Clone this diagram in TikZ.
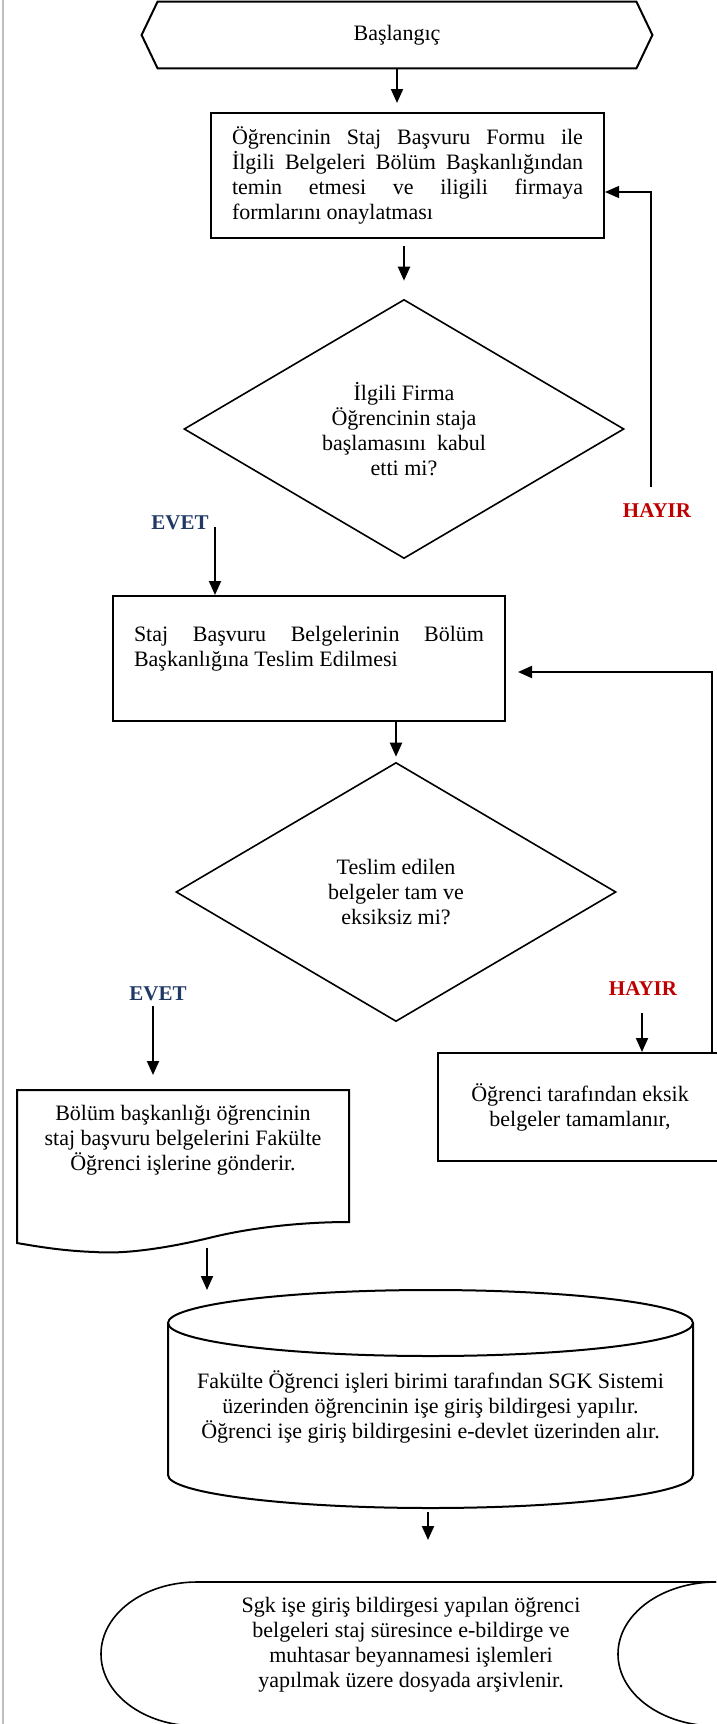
\documentclass[tikz,border=0pt]{standalone}
\usepackage{fontspec}
\setmainfont{Liberation Serif}
\usetikzlibrary{shapes.geometric,arrows.meta}
\definecolor{evetblue}{RGB}{31,56,100}
\definecolor{hayirred}{RGB}{192,0,0}
\newcommand{\flowtext}{\fontsize{11}{12.5}\selectfont}
\newcommand{\answertext}{\fontsize{10.5}{12}\selectfont\bfseries}
\hyphenpenalty=10000

\begin{document}
\begin{tikzpicture}[x=0.5pt,y=-0.5pt,
    outline/.style={line width=1pt},
    procbox/.style={draw,rectangle,line width=1pt,inner sep=0pt,font=\flowtext},
    decision/.style={draw,diamond,aspect=1.7,line width=0.8pt,inner sep=0pt,
        minimum width=220pt,minimum height=129.5pt,align=center,font=\flowtext},
    plain/.style={inner sep=0pt,align=center,font=\flowtext},
    yeslabel/.style={font=\answertext,text=evetblue},
    nolabel/.style={font=\answertext,text=hayirred},
    flowarrow/.style={-{Triangle[length=7pt,width=6pt]},line width=1pt}]
    \clip (0,0) rectangle (717,1724);
    \draw[black!25,line width=1pt] (3,0) -- (3,1724);

    % start
    \node[plain,minimum width=239pt,minimum height=33pt] (start) at (397,35) {Başlangıç};
    \draw[outline] (start.north west) -- (start.north east) -- ([xshift=8pt]start.east)
        -- (start.south east) -- (start.south west) -- ([xshift=-8pt]start.west) -- cycle;

    \node[procbox,minimum width=196.5pt,minimum height=62.5pt,text width=175.5pt,align=justify] (form) at (407.5,175.5)
    {Öğrencinin Staj Başvuru Formu ile\linebreak İlgili Belgeleri Bölüm Başkanlığından\linebreak temin etmesi ve iligili firmaya\linebreak formlarını onaylatması};

    \node[decision] (firma) at (404,429) {İlgili Firma\\Öğrencinin staja\\başlamasını\ \ kabul\\etti mi?};

    \node[procbox,minimum width=196pt,minimum height=62.5pt,text width=175pt,align=justify] (teslim) at (309,658.5)
    {Staj Başvuru Belgelerinin Bölüm\linebreak Başkanlığına Teslim Edilmesi\\\mbox{}};

    \node[decision] (tamam) at (396,892) {Teslim edilen\\belgeler tam ve\\eksiksiz mi?};

    \node[procbox,minimum width=142pt,minimum height=54pt,align=center] (eksik) at (580,1107)
    {Öğrenci tarafından eksik\\belgeler tamamlanır,};

    % document shape
    \node[plain] (fakulte) at (183,1140) {Bölüm başkanlığı öğrencinin\\staj başvuru belgelerini Fakülte\\Öğrenci işlerine gönderir.};
    \draw[outline] (17,1243) -- (17,1090) -- (349,1090) -- (349,1222)
        .. controls (300,1222) and (250,1228) .. (213,1237)
        .. controls (160,1250) and (120,1254) .. (95,1252)
        .. controls (65,1251) and (40,1247) .. (17,1243) -- cycle;

    % cylinder
    \node[plain] (sgk) at (430.5,1407) {Fakülte Öğrenci işleri birimi tarafından SGK Sistemi\\üzerinden öğrencinin işe giriş bildirgesi yapılır.\\Öğrenci işe giriş bildirgesini e-devlet üzerinden alır.};
    \draw[outline] (430.5,1323) ellipse [x radius=131.25pt,y radius=16.5pt];
    \draw[outline] (168,1323) -- (168,1475) .. controls (168,1493) and (285.5,1508) .. (430.5,1508)
        .. controls (575.5,1508) and (693,1493) .. (693,1475) -- (693,1323);

    % stored data
    \node[plain] (arsiv) at (411,1645) {Sgk işe giriş bildirgesi yapılan öğrenci\\belgeleri staj süresince e-bildirge ve\\muhtasar beyannamesi işlemleri\\yapılmak üzere dosyada arşivlenir.};
    \draw[line width=0.8pt] (716,1582) -- (197,1582) .. controls (144,1582) and (101,1614) .. (101,1654)
        .. controls (101,1694) and (144,1726) .. (197,1726) -- (716,1726);
    \draw[line width=0.8pt] (716,1582) .. controls (662,1582) and (618,1614) .. (618,1654)
        .. controls (618,1694) and (662,1726) .. (716,1726);

    % answers
    \node[yeslabel] (evet1) at (180,523) {EVET};
    \node[nolabel] (hayir1) at (657,511) {HAYIR};
    \node[yeslabel] (evet2) at (158,994) {EVET};
    \node[nolabel] (hayir2) at (643,989) {HAYIR};

    \coordinate (evet1arr) at (215,527);
    \coordinate (evet2arr) at (153,1006);
    \coordinate (doctop) at (153,1090);
    \coordinate (hayir2arr) at (642,1013);
    \coordinate (docbottom) at (207,1248);
    \coordinate (sgktop) at (207,1290);
    \coordinate (sgkbottom) at (428,1512);
    \coordinate (arsivtop) at (428,1582);

    % connectors
    \draw[flowarrow,shorten >=4.5pt] (start.south) -- (start.south |- form.north);
    \draw[flowarrow,shorten <=3.5pt,shorten >=9pt] (form.south -| firma.north) -- (firma.north);
    \draw[flowarrow,line width=0.6pt] ([xshift=-3pt,yshift=5pt]hayir1.north) |- ([yshift=-8.25pt]form.east);
    \draw[flowarrow] (evet1arr) -- (evet1arr |- teslim.north);
    \draw[flowarrow,shorten >=2.5pt] (teslim.south -| tamam.north) -- (tamam.north);
    \draw[flowarrow,shorten >=7.5pt] (evet2arr) -- (doctop);
    \draw[flowarrow] (hayir2arr) -- (hayir2arr |- eksik.north);
    \draw[flowarrow,shorten >=6pt] ([xshift=66pt]eksik.north) |- ([yshift=-6.75pt]teslim.east);
    \draw[flowarrow] (docbottom) -- (sgktop);
    \draw[flowarrow,shorten >=21pt] (sgkbottom) -- (arsivtop);
\end{tikzpicture}
\end{document}
